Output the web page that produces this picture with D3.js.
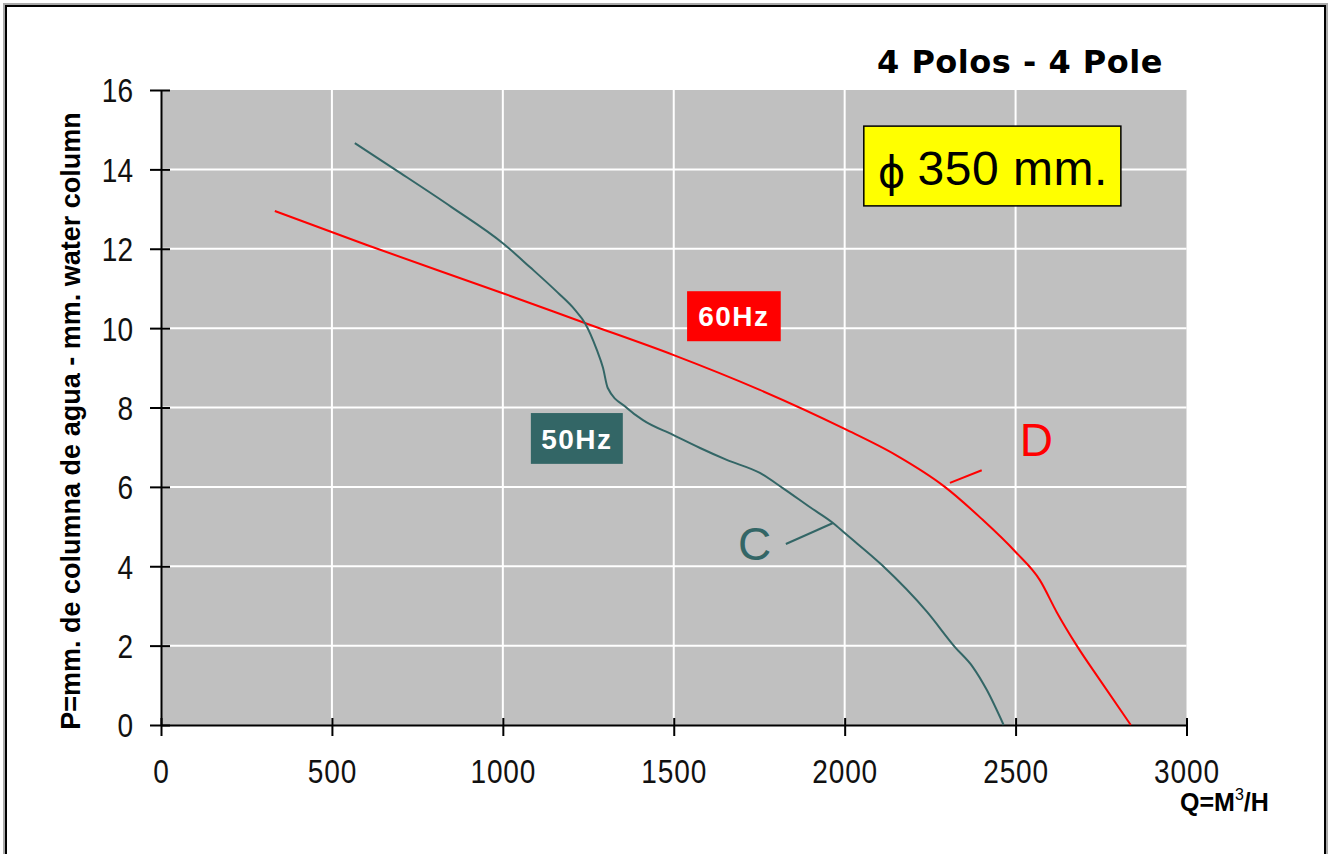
<!DOCTYPE html>
<html>
<head>
<meta charset="utf-8">
<script src="https://cdn.jsdelivr.net/npm/d3@7"></script>
<style>
  html, body { margin: 0; padding: 0; background: #fff; }
  svg { display: block; }
</style>
</head>
<body>
<svg id="chart" width="1333" height="854"></svg>
<script>
// ---- Data ----
const q60 = [333, 600, 1000, 1240, 1500, 1750, 2000, 2150, 2293, 2400, 2500, 2571, 2620, 2679, 2747, 2837];
const p60 = [12.95, 12.1, 10.88, 10.13, 9.32, 8.45, 7.46, 6.8, 6.0, 5.2, 4.36, 3.65, 2.85, 2.0, 1.13, 0];

const q50 = [567, 684, 850, 1000, 1079, 1160, 1211, 1240, 1275, 1293, 1307, 1363, 1410, 1498, 1577, 1655, 1752, 1819, 1900, 1966, 2001, 2109, 2241, 2322, 2375, 2416, 2465];
const p50 = [14.66, 14.0, 13.05, 12.14, 11.54, 10.9, 10.46, 10.13, 9.45, 9.0, 8.49, 7.99, 7.68, 7.31, 6.98, 6.68, 6.35, 5.97, 5.48, 5.09, 4.83, 4.03, 2.85, 1.97, 1.46, 0.88, 0];

const xTicks = [0, 500, 1000, 1500, 2000, 2500, 3000];
const yTicks = [0, 2, 4, 6, 8, 10, 12, 14, 16];

const title = "4 Polos - 4 Pole";
const yTitle = "P=mm. de columna de agua - mm. water column";
const xTitle = "Q=M";
const sizeLabel = "350 mm.";

// ---- Layout ----
const svg = d3.select("#chart");
const x = d3.scaleLinear().domain([0, 3000]).range([161, 1186.5]);
const y = d3.scaleLinear().domain([0, 16]).range([725, 90]);

const RED = "#ff0000";
const TEAL = "#336666";

// outer frame
svg.append("rect").attr("x", 5).attr("y", 5).attr("width", 1321).attr("height", 900)
  .attr("fill", "none").attr("stroke", "#aaa").attr("stroke-width", 4);
svg.append("rect").attr("x", 6).attr("y", 6).attr("width", 1319).attr("height", 900)
  .attr("fill", "none").attr("stroke", "#000").attr("stroke-width", 2);

// plot background
svg.append("rect")
  .attr("x", x(0)).attr("y", y(16))
  .attr("width", x(3000) - x(0)).attr("height", y(0) - y(16))
  .attr("fill", "#c0c0c0");

// gridlines
svg.append("g").selectAll("line").data(xTicks.filter(d => d > 0 && d < 3000)).join("line")
  .attr("x1", d => x(d)).attr("x2", d => x(d))
  .attr("y1", y(16)).attr("y2", y(0))
  .attr("stroke", "#fff").attr("stroke-width", 2);
svg.append("g").selectAll("line").data(yTicks.filter(d => d > 0 && d < 16)).join("line")
  .attr("x1", x(0)).attr("x2", x(3000))
  .attr("y1", d => y(d)).attr("y2", d => y(d))
  .attr("stroke", "#fff").attr("stroke-width", 2);

// axes
const axisFont = "'Liberation Sans', Arial, sans-serif";
const yAxis = svg.append("g").attr("transform", `translate(${x(0)},0)`)
  .call(d3.axisLeft(y).tickValues(yTicks).tickSizeInner(11).tickSizeOuter(0).tickPadding(16).tickFormat(d3.format("d")));
yAxis.select(".domain").attr("stroke", "#000").attr("stroke-width", 2);
yAxis.selectAll(".tick line").attr("stroke", "#000").attr("stroke-width", 2).attr("x2", -11).attr("x1", 9);
yAxis.selectAll(".tick text")
  .attr("font-family", axisFont).attr("font-size", 33).attr("fill", "#111")
  .attr("x", -28 / 0.85).attr("dy", "0.36em")
  .attr("transform", "scale(0.85,1)");

const xAxis = svg.append("g").attr("transform", `translate(0,${y(0)})`)
  .call(d3.axisBottom(x).tickValues(xTicks).tickSizeInner(11).tickSizeOuter(0).tickPadding(34).tickFormat(d3.format("d")));
xAxis.select(".domain").attr("stroke", "#000").attr("stroke-width", 2);
xAxis.selectAll(".tick line").attr("stroke", "#000").attr("stroke-width", 2).attr("y1", -7).attr("y2", 11);
xAxis.selectAll(".tick text")
  .attr("font-family", axisFont).attr("font-size", 33).attr("fill", "#111")
  .attr("y", 58).attr("dy", 0).attr("x", 0)
  .attr("letter-spacing", 1)
  .attr("transform", "scale(0.85,1)");

// curves
const line = d3.line().x(d => x(d[0])).y(d => y(d[1])).curve(d3.curveMonotoneX);
svg.append("path").datum(q60.map((q, i) => [q, p60[i]]))
  .attr("d", line).attr("fill", "none").attr("stroke", RED).attr("stroke-width", 2);
svg.append("path").datum(q50.map((q, i) => [q, p50[i]]))
  .attr("d", line).attr("fill", "none").attr("stroke", TEAL).attr("stroke-width", 2);

// series tag boxes
function tagBox(x0, x1, y0, y1, fill, label) {
  svg.append("rect").attr("x", x(x0)).attr("y", y(y0))
    .attr("width", x(x1) - x(x0)).attr("height", y(y1) - y(y0)).attr("fill", fill);
  svg.append("text").attr("x", (x(x0) + x(x1)) / 2).attr("y", (y(y0) + y(y1)) / 2)
    .attr("dy", "0.36em").attr("text-anchor", "middle")
    .attr("font-family", axisFont).attr("font-weight", "bold").attr("font-size", 28)
    .attr("letter-spacing", 1.5).attr("fill", "#fff").text(label);
}
tagBox(1539, 1813, 10.93, 9.67, RED, "60Hz");
tagBox(1082, 1351, 7.86, 6.58, TEAL, "50Hz");

// curve letters and leaders
svg.append("text").attr("x", x(1688)).attr("y", y(4.16))
  .attr("font-family", axisFont).attr("font-size", 46).attr("fill", TEAL).text("C");
svg.append("line").attr("x1", x(1828)).attr("y1", y(4.56)).attr("x2", x(1966)).attr("y2", y(5.09))
  .attr("stroke", TEAL).attr("stroke-width", 2);
svg.append("text").attr("x", x(2512)).attr("y", y(6.78))
  .attr("font-family", axisFont).attr("font-size", 46).attr("fill", RED).text("D");
svg.append("line").attr("x1", x(2308)).attr("y1", y(6.10)).attr("x2", x(2401)).attr("y2", y(6.42))
  .attr("stroke", RED).attr("stroke-width", 2);

// yellow size box
svg.append("rect").attr("x", x(2056)).attr("y", y(15.09))
  .attr("width", x(2808) - x(2056)).attr("height", y(13.08) - y(15.09))
  .attr("fill", "#ffff00").attr("stroke", "#000").attr("stroke-width", 1.5);
const sz = svg.append("text").attr("x", x(2056) + 14).attr("y", 185)
  .attr("font-family", axisFont).attr("fill", "#000");
sz.append("tspan").attr("font-family", "'DejaVu Sans', sans-serif").attr("font-size", 42).attr("dy", 2).text("\u03D5");
sz.append("tspan").attr("dx", 12).attr("dy", -2).attr("font-size", 48).attr("letter-spacing", 0.5).text(sizeLabel);

// title
svg.append("text").attr("x", 877).attr("y", 73)
  .attr("font-family", "'DejaVu Sans', sans-serif").attr("font-weight", "bold").attr("font-size", 32)
  .attr("letter-spacing", 0.5)
  .attr("fill", "#000").text(title);

// y axis title
svg.append("text").attr("transform", "translate(80,421) rotate(-90)")
  .attr("text-anchor", "middle")
  .attr("font-family", axisFont).attr("font-weight", "bold").attr("font-size", 27)
  .attr("fill", "#000").text(yTitle);

// x axis title
const xt = svg.append("text").attr("x", 1180).attr("y", 811)
  .attr("font-family", axisFont).attr("font-weight", "bold").attr("font-size", 25).attr("fill", "#000");
xt.append("tspan").text(xTitle);
xt.append("tspan").attr("font-size", 16).attr("dy", -11).attr("font-weight", "normal").text("3");
xt.append("tspan").attr("dy", 11).text("/H");
</script>
</body>
</html>
